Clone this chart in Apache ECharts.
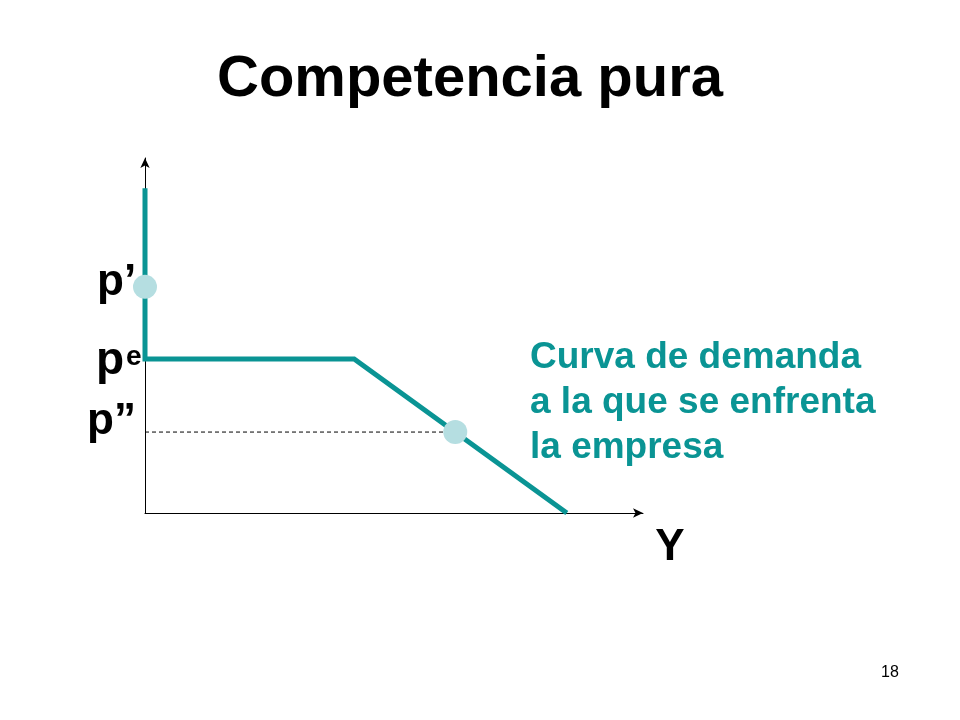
<!DOCTYPE html>
<html>
<head>
<meta charset="utf-8">
<script src="https://cdn.jsdelivr.net/npm/echarts@6/dist/echarts.min.js"></script>
<style>
html,body{margin:0;padding:0;background:#fff;}
#chart{width:960px;height:720px;}
</style>
</head>
<body>
<div id="chart"></div>
<script>
// Demand curve faced by the firm (kinked): x = quantity Y, y = price
var demandX = [0, 0, 42, 84.7];
var demandY = [91.5, 43.4, 43.4, 0];
// Highlighted points p' and p''
var pointX = [0, 62.3];
var pointY = [63.7, 22.8];
// Dashed guide at p''
var guideX = [0, 62.3];
var guideY = [22.8, 22.8];

var titleText = 'Competencia pura';
var priceLabels = ["p\u2019", 'p', "p\u201D"];
var axisLabelText = 'Y';
var curveText = 'Curva de demanda\na la que se enfrenta\nla empresa';
var pageNumber = '18';

var teal = '#0A9494';
var dotColor = '#B5DEE1';
var font = 'Liberation Sans, Arial, sans-serif';

function pairs(xs, ys){ return xs.map(function(x,i){ return [x, ys[i]]; }); }

var chart = echarts.init(document.getElementById('chart'));
chart.setOption({
  backgroundColor: '#ffffff',
  animation: false,
  grid: { left: 145, top: 158, width: 498, height: 355 },
  xAxis: {
    type: 'value', min: 0, max: 100,
    axisLine: { show: true, onZero: false, symbol: ['none', 'arrow'], symbolSize: [7, 10], lineStyle: { color: '#000', width: 1 } },
    axisTick: { show: false }, axisLabel: { show: false }, splitLine: { show: false }
  },
  yAxis: {
    type: 'value', min: 0, max: 100,
    axisLine: { show: true, onZero: false, symbol: ['none', 'arrow'], symbolSize: [7, 10], lineStyle: { color: '#000', width: 1 } },
    axisTick: { show: false }, axisLabel: { show: false }, splitLine: { show: false }
  },
  series: [
    {
      type: 'line', data: pairs(guideX, guideY), showSymbol: false, clip: false, z: 2,
      lineStyle: { color: '#000', width: 1, type: [4, 3] }
    },
    {
      type: 'line', data: pairs(demandX, demandY), showSymbol: false, clip: false, z: 3,
      lineStyle: { color: teal, width: 5, cap: 'butt', join: 'miter' }
    },
    {
      type: 'scatter', data: pairs(pointX, pointY), symbolSize: 24, clip: false, z: 4,
      itemStyle: { color: dotColor, opacity: 1 }
    }
  ],
  graphic: [
    { type: 'text', x: 470, y: 80, style: { text: titleText, fill: '#000', font: 'bold 58px ' + font, align: 'center', verticalAlign: 'middle' } },
    { type: 'text', x: 97, y: 283, style: { text: priceLabels[0], fill: '#000', font: 'bold 44px ' + font, align: 'left', verticalAlign: 'middle' } },
    { type: 'text', x: 96, y: 361, style: { text: priceLabels[1], fill: '#000', font: 'bold 46px ' + font, align: 'left', verticalAlign: 'middle' } },
    { type: 'text', x: 126, y: 357, style: { text: 'e', fill: '#000', font: '600 28px ' + font, align: 'left', verticalAlign: 'middle' } },
    { type: 'text', x: 87, y: 422, style: { text: priceLabels[2], fill: '#000', font: 'bold 44px ' + font, align: 'left', verticalAlign: 'middle' } },
    { type: 'text', x: 670, y: 548, style: { text: axisLabelText, fill: '#000', font: 'bold 44px ' + font, align: 'center', verticalAlign: 'middle' } },
    { type: 'text', x: 530, y: 403, style: { text: curveText, fill: teal, font: 'bold 37px ' + font, lineHeight: 45, align: 'left', verticalAlign: 'middle' } },
    { type: 'text', x: 890, y: 673, style: { text: pageNumber, fill: '#000', font: '16px ' + font, align: 'center', verticalAlign: 'middle' } }
  ]
});
</script>
</body>
</html>
